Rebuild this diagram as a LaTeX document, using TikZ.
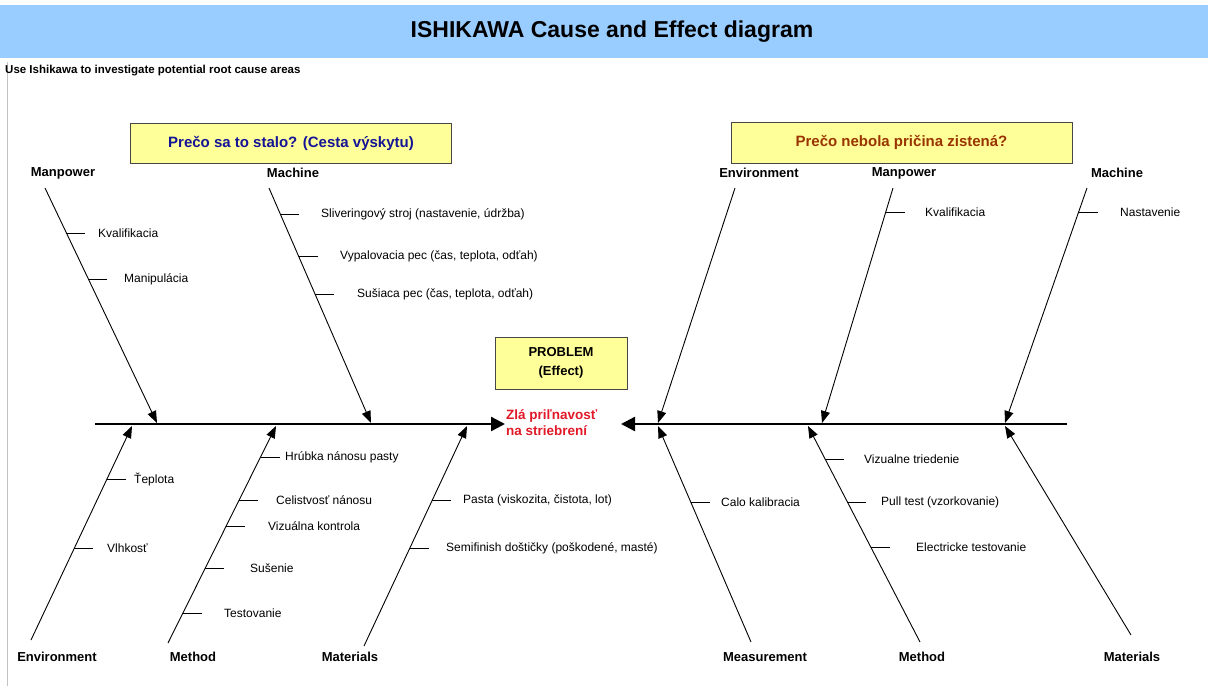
\documentclass[tikz,border=0pt]{standalone}
\usepackage{fontspec}
\setmainfont{Liberation Sans}
\usetikzlibrary{arrows.meta,calc}

\definecolor{bandblue}{RGB}{153,204,255}
\definecolor{noteyellow}{RGB}{255,255,153}
\definecolor{boxline}{RGB}{70,70,70}
\definecolor{whyblue}{RGB}{20,20,150}
\definecolor{whybrown}{RGB}{153,51,0}
\definecolor{effred}{RGB}{225,25,40}
\definecolor{sheetedge}{RGB}{195,195,195}

% one sub-cause: a short tick off a bone plus its text
% #1,#2 bone ends, #3,#4 their y, #5 tick y, #6 name, #7 text x, #8 text
\newcommand\twig[8]{%
  \coordinate (#6) at ($(#1)!{(#5-#3)/(#4-#3)}!(#2)$);
  \draw[twigline] (#6) -- ++(19,0);
  \node[item] (#6t) at (#7,#5) {#8};
}

\tikzset{
  item/.style={font=\fontsize{12}{14}\selectfont, inner sep=0pt, anchor=west},
  cat/.style={font=\bfseries\fontsize{13}{15}\selectfont, inner sep=0pt},
  bone/.style={line width=0.9pt, -{Triangle[length=12pt,width=9pt]}},
  spine/.style={line width=2.4pt, -{Triangle[length=14pt,width=14pt]}},
  twigline/.style={line width=0.9pt},
  note/.style={draw=boxline, fill=noteyellow, line width=0.8pt, inner sep=0pt,
    font=\bfseries\fontsize{13}{15}\selectfont},
}

\begin{document}
\begin{tikzpicture}[x=1pt,y=-1pt]
\useasboundingbox (0,0) rectangle (1211,686);

% header band and sheet edge
\fill[bandblue] (0,5) rectangle (1208,58);
\node[font=\bfseries\fontsize{23}{27}\selectfont] (title) at (612,32) {ISHIKAWA Cause and Effect diagram};
\draw[sheetedge, line width=1pt] (7,62) -- (7,686);
\node[anchor=west, inner sep=0pt, font=\bfseries\fontsize{11.5}{13}\selectfont] (intro) at (5,71)
  {Use Ishikawa to investigate potential root cause areas};

% question boxes
\node[note, minimum width=321pt, minimum height=40pt, text=whyblue,
      font=\bfseries\fontsize{15}{17}\selectfont] (whyL) at (291,143)
  {Prečo sa to stalo? (Cesta výskytu)};
\node[note, minimum width=341pt, minimum height=41pt, text=whybrown,
      font=\bfseries\fontsize{15}{17}\selectfont] (whyR) at (901.5,142.5)
  {Prečo nebola pričina zistená?};

% effect
\node[note, minimum width=132pt, minimum height=52pt, align=center,
      font=\bfseries\fontsize{13}{19}\selectfont] (prob) at (561,363) {PROBLEM\\(Effect)};
\node[anchor=west, inner sep=1pt, align=left, text=effred,
      font=\bfseries\fontsize{13.5}{16}\selectfont] (eff) at (505,423) {Zlá priľnavosť\\na striebrení};

% spines
\coordinate (sLA) at (95,424);  \coordinate (sLB) at (505,424);
\coordinate (sRA) at (1067,424); \coordinate (sRB) at (621,424);
\draw[spine] (sLA) -- (sLB);
\draw[spine] (sRA) -- (sRB);

% bone ends
\coordinate (lmpA) at (45,188);   \coordinate (lmpB) at (157,423);
\coordinate (lmaA) at (269,188);  \coordinate (lmaB) at (371,423);
\coordinate (renA) at (735,188);  \coordinate (renB) at (658,423);
\coordinate (rmpA) at (893,188);  \coordinate (rmpB) at (822,423);
\coordinate (rmaA) at (1087,188); \coordinate (rmaB) at (1005,423);
\coordinate (lenA) at (31,640);   \coordinate (lenB) at (132,426);
\coordinate (lmeA) at (168,643);  \coordinate (lmeB) at (276,426);
\coordinate (lmtA) at (364,646);  \coordinate (lmtB) at (467,426);
\coordinate (rmsA) at (751,642);  \coordinate (rmsB) at (658,426);
\coordinate (rmeA) at (920,642);  \coordinate (rmeB) at (808,426);
\coordinate (rmtA) at (1131,635); \coordinate (rmtB) at (1005,426);

\foreach \b in {lmp,lma,ren,rmp,rma,len,lme,lmt,rms,rme,rmt}
  \draw[bone] (\b A) -- (\b B);

% category labels
\node[cat] (cLmp) at (63,173)   {Manpower};
\node[cat] (cLma) at (293,173)  {Machine};
\node[cat] (cRen) at (759,173)  {Environment};
\node[cat] (cRmp) at (904,173)  {Manpower};
\node[cat] (cRma) at (1117,173) {Machine};
\node[cat] (cLen) at (57,657)   {Environment};
\node[cat] (cLme) at (193,657)  {Method};
\node[cat] (cLmt) at (350,657)  {Materials};
\node[cat] (cRms) at (765,657)  {Measurement};
\node[cat] (cRme) at (922,657)  {Method};
\node[cat] (cRmt) at (1132,657) {Materials};

% sub-causes, left half
\twig{lmpA}{lmpB}{188}{423}{233}{t1}{98}{Kvalifikacia}
\twig{lmpA}{lmpB}{188}{423}{279}{t2}{124}{Manipulácia}
\twig{lmaA}{lmaB}{188}{423}{214}{t3}{321}{Sliveringový stroj (nastavenie, údržba)}
\twig{lmaA}{lmaB}{188}{423}{256}{t4}{340}{Vypalovacia pec (čas, teplota, odťah)}
\twig{lmaA}{lmaB}{188}{423}{294}{t5}{357}{Sušiaca pec (čas, teplota, odťah)}
\twig{lenA}{lenB}{640}{426}{479}{t6}{134}{Ťeplota}
\twig{lenA}{lenB}{640}{426}{548}{t7}{107}{Vlhkosť}
\twig{lmeA}{lmeB}{643}{426}{457}{t8}{285}{Hrúbka nánosu pasty}
\twig{lmeA}{lmeB}{643}{426}{500}{t9}{276}{Celistvosť nánosu}
\twig{lmeA}{lmeB}{643}{426}{526}{t10}{268}{Vizuálna kontrola}
\twig{lmeA}{lmeB}{643}{426}{568}{t11}{250}{Sušenie}
\twig{lmeA}{lmeB}{643}{426}{613}{t12}{224}{Testovanie}
\twig{lmtA}{lmtB}{646}{426}{500}{t13}{463}{Pasta (viskozita, čistota, lot)}
\twig{lmtA}{lmtB}{646}{426}{548}{t14}{446}{Semifinish doštičky (poškodené, masté)}

% sub-causes, right half
\twig{rmpA}{rmpB}{188}{423}{212}{t15}{925}{Kvalifikacia}
\twig{rmaA}{rmaB}{188}{423}{212}{t16}{1120}{Nastavenie}
\twig{rmsA}{rmsB}{642}{426}{502}{t17}{721}{Calo kalibracia}
\twig{rmeA}{rmeB}{642}{426}{459}{t18}{864}{Vizualne triedenie}
\twig{rmeA}{rmeB}{642}{426}{502}{t19}{881}{Pull test (vzorkovanie)}
\twig{rmeA}{rmeB}{642}{426}{547}{t20}{916}{Electricke testovanie}

\end{tikzpicture}
\end{document}
